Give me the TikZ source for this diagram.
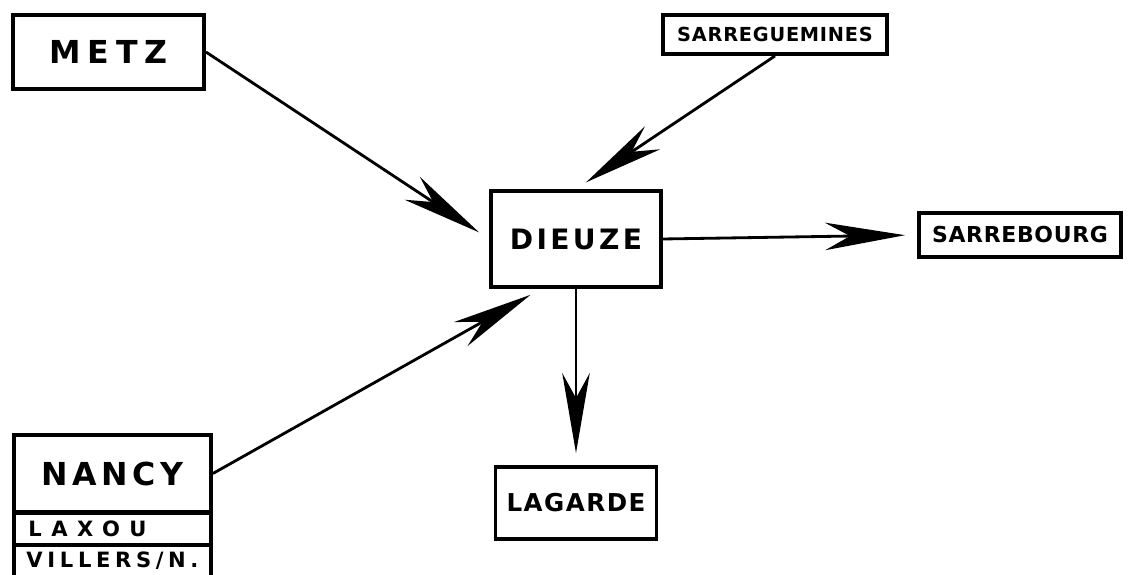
\documentclass[tikz,border=0pt]{standalone}
\usepackage{fontspec}
\usepackage{tikz}
\usetikzlibrary{arrows.meta}
\newfontfamily\hand[LetterSpace=22]{DejaVu Sans}
\tikzstyle{town} = [rectangle, draw=black, line width=2.2pt, inner sep=0pt, text centered]
\tikzstyle{arrow} = [line width=1.6pt, -{Stealth[length=1.6cm, width=0.55cm, inset=0.5cm]}, shorten >=0.24cm]

\begin{document}
\begin{tikzpicture}[node distance = 1cm]
  \useasboundingbox (-11.52,-6.72) rectangle (11.08,4.78);
  \node (dieuze) [town, minimum width=3.4cm, minimum height=1.92cm, font=\hand\bfseries\fontsize{16}{16}\selectfont\addfontfeatures{LetterSpace=12}] {DIEUZE};
  \node (metz) [town, left of = dieuze, xshift = -8.35cm, yshift = 3.74cm, minimum width=3.82cm, minimum height=1.48cm, font=\hand\bfseries\fontsize{18}{18}\selectfont] {METZ};
  \node (sarreguemines) [town, above of = dieuze, xshift = 3.98cm, yshift = 3.09cm, minimum width=4.48cm, minimum height=0.78cm, font=\hand\bfseries\fontsize{11}{11}\selectfont\addfontfeatures{LetterSpace=4}] {SARREGUEMINES};
  \node (sarrebourg) [town, right of = dieuze, xshift = 7.88cm, yshift = 0.08cm, minimum width=4.04cm, minimum height=0.88cm, font=\hand\bfseries\fontsize{12.5}{12.5}\selectfont\addfontfeatures{LetterSpace=3}] {SARREBOURG};
  \node (lagarde) [town, below of = dieuze, yshift = -4.28cm, minimum width=3.22cm, minimum height=1.44cm, font=\hand\bfseries\fontsize{14}{14}\selectfont\addfontfeatures{LetterSpace=6}] {LAGARDE};
  \node (nancy) [town, below of = dieuze, xshift = -9.27cm, yshift = -3.69cm, minimum width=3.94cm, minimum height=1.54cm, font=\hand\bfseries\fontsize{18}{18}\selectfont\addfontfeatures{LetterSpace=15}] {NANCY};
  \node (laxou) [town, line width=1.8pt, below of = nancy, yshift = -0.11cm, minimum width=3.94cm, minimum height=0.64cm, font=\hand\bfseries\fontsize{12}{12}\selectfont\addfontfeatures{LetterSpace=45}] {\hspace*{-1.0cm}LAXOU};
  \node (villers) [below of = laxou, yshift = 0.36cm, minimum width=3.94cm, minimum height=0.64cm, inner sep=0pt, font=\hand\bfseries\fontsize{12}{12}\selectfont\addfontfeatures{LetterSpace=22}] {VILLERS/N.};
  \draw [line width=2.2pt] (villers.north west) -- (villers.south west);
  \draw [line width=2.2pt] (villers.north east) -- (villers.south east);
  \draw [arrow] (metz.east) -- (dieuze.west);
  \draw [arrow] (sarreguemines.south) -- (dieuze.north);
  \draw [arrow] (dieuze.east) -- (sarrebourg.west);
  \draw [arrow] (nancy.east) -- (dieuze.-125);
  \draw [arrow] (dieuze.south) -- (lagarde.north);
\end{tikzpicture}
\end{document}
